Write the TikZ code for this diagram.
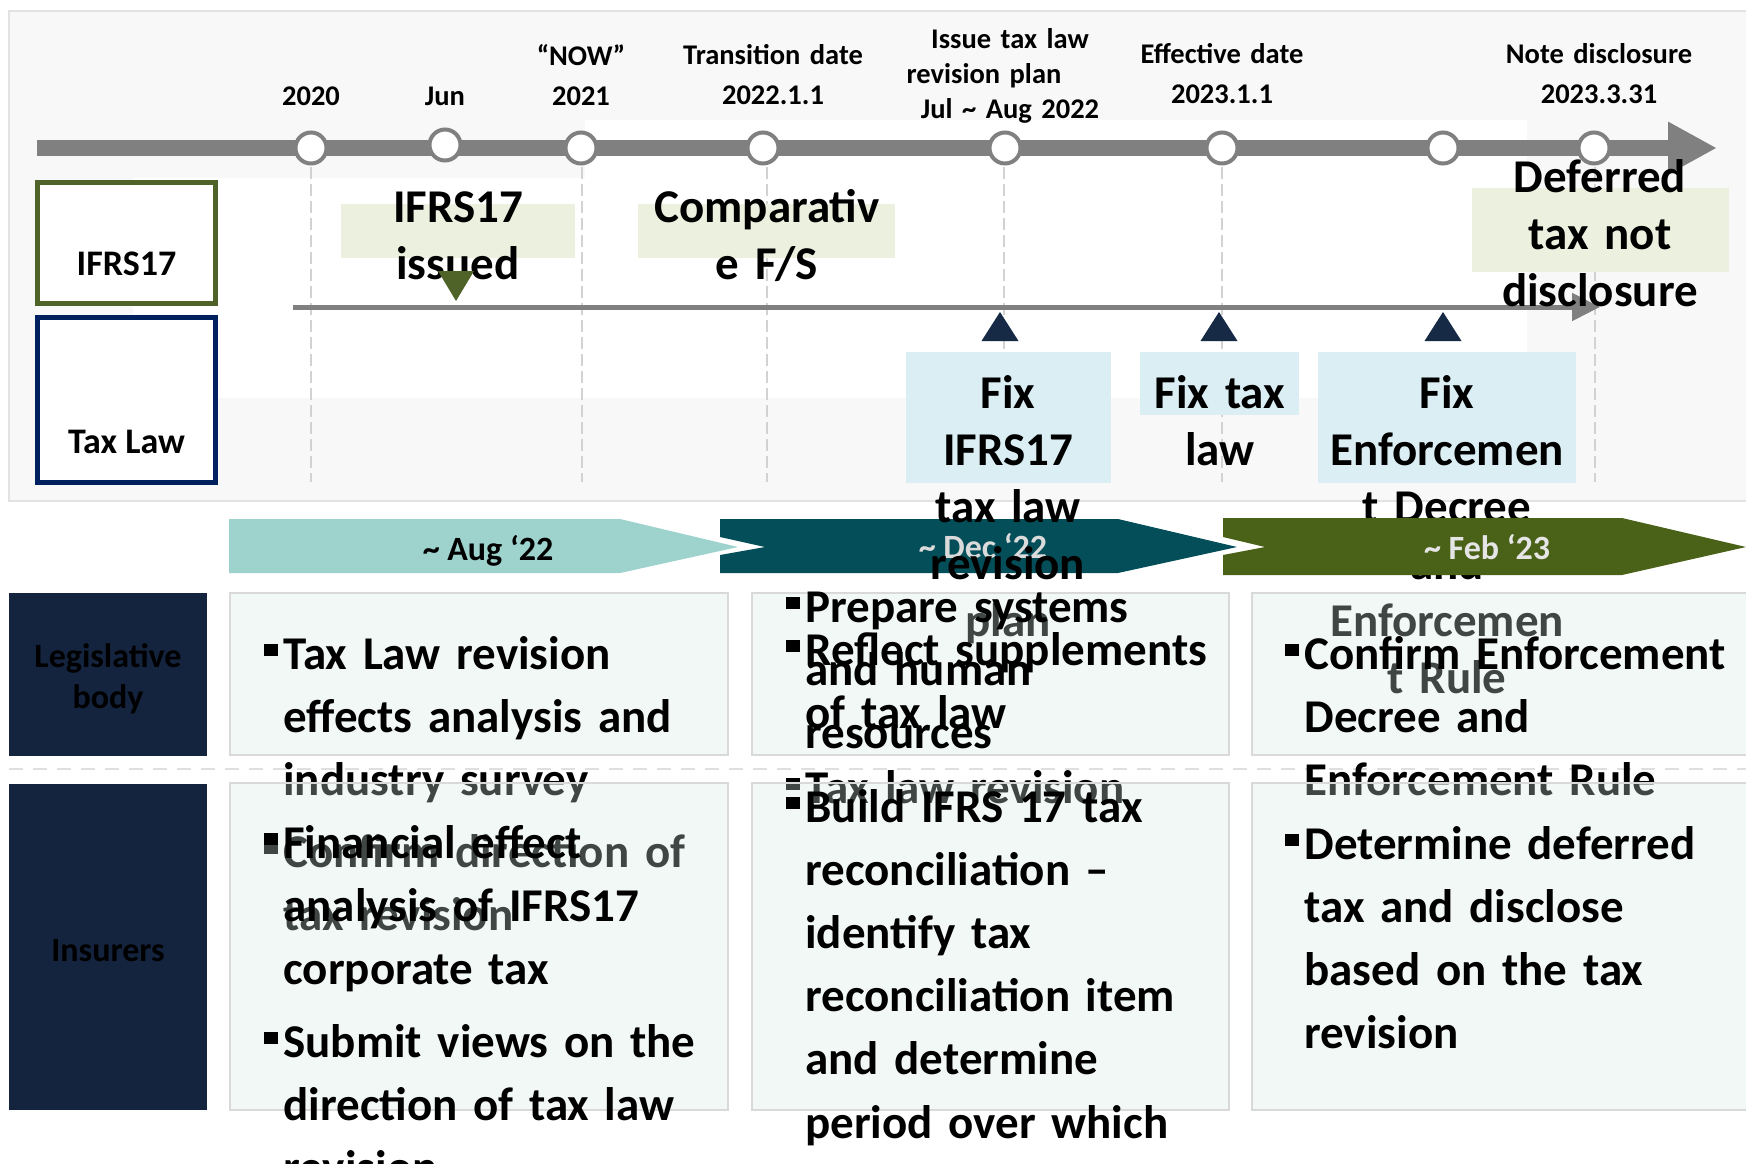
\documentclass[tikz,border=0pt]{standalone}
\usepackage{fontspec}
\setmainfont{Carlito}
\usetikzlibrary{arrows.meta,positioning,shapes.geometric}
\definecolor{panelgray}{HTML}{F8F8F8}
\definecolor{panelline}{HTML}{E2E2E2}
\definecolor{barGray}{HTML}{808080}
\definecolor{oliveDk}{HTML}{4F6228}
\definecolor{navyBorder}{HTML}{002060}
\definecolor{navyFill}{HTML}{14233E}
\definecolor{greenLt}{HTML}{EBF1DE}
\definecolor{blueLt}{HTML}{DAEEF3}
\definecolor{mintBox}{RGB}{212,232,225}
\definecolor{boxLine}{HTML}{D9D9D9}
\definecolor{tealLt}{HTML}{9DD3CC}
\definecolor{tealDk}{HTML}{034E58}
\definecolor{olivePh}{HTML}{4A6118}
\definecolor{triNavy}{HTML}{172A45}
\newcommand{\fsLbl}{\bfseries\fontsize{14.25}{20}\selectfont}
\newcommand{\fsCall}{\bfseries\fontsize{23.5}{28.5}\selectfont}
\newcommand{\fsBody}{\bfseries\fontsize{23.5}{31.6}\selectfont}
\newcommand{\fsCat}{\bfseries\fontsize{18}{21}\selectfont}
\newcommand{\fsRow}{\bfseries\fontsize{17}{20.5}\selectfont}
\newcommand{\bul}{\llap{\rule[6.5pt]{7pt}{6pt}\hspace{2.5pt}}}
\tikzset{
  tickdot/.style  = {circle, draw=barGray, line width=2pt, fill=white,
                     inner sep=0pt, minimum size=15.5pt},
  datelbl/.style  = {font=\fsLbl, anchor=base, align=center,
                     text width=120pt, inner sep=0pt},
  vguide/.style   = {draw=gray!35, line width=0.6pt, dash pattern=on 6pt off 2.5pt},
  mainbar/.style  = {draw=barGray, line width=8pt,
                     -{Triangle[length=24.5pt,width=24.5pt]}},
  thinbar/.style  = {draw=barGray, line width=2.5pt,
                     -{Triangle[length=14pt,width=13.5pt]}},
  catbox/.style   = {rectangle, fill=white, line width=2.5pt, inner sep=0pt,
                     minimum width=89pt, minimum height=60.5pt},
  cattxt/.style   = {font=\fsCat, anchor=base, inner sep=0pt},
  calltxt/.style  = {font=\fsCall, anchor=base, align=center,
                     text width=150pt, inner sep=0pt},
  phaselbl/.style = {font=\fsRow, anchor=base, inner sep=0pt},
  rowbox/.style   = {fill=mintBox, fill opacity=0.3, draw=boxLine, line width=0.75pt},
  bodytxt/.style  = {font=\fsBody, anchor=base west, align=left,
                     text width=260pt, inner sep=0pt},
  rowlbl/.style   = {rectangle, fill=navyFill, inner sep=0pt, minimum width=99pt},
  rowtxt/.style   = {font=\fsRow, align=center, inner sep=0pt}
}

\begin{document}
\begin{tikzpicture}[x=0.5pt, y=-0.5pt]
\useasboundingbox (0,0) rectangle (1746,1163);

% timeline panel
\filldraw[fill=panelgray, draw=panelline, line width=0.8pt] (9,11) rectangle (1760,501);
\fill[white] (133,178) -- (585,178) -- (585,120) -- (1527,120) -- (1527,398) -- (133,398) -- cycle;
\foreach \x in {311,582,767,1004,1222,1595}
  \draw[vguide] (\x,167) -- (\x,482);

\coordinate (barL) at (37,148);
\coordinate (barR) at (1717,148);
\draw[mainbar] (barL) -- (barR);
\foreach \n/\x/\y in {a/311/148, b/445/145, c/581/148, d/763/148,
                      e/1005/148, f/1222/148, g/1443/148, h/1594/148}
  \node[tickdot] (c\n) at (\x,\y) {};

\node[datelbl] (d2020)  at (311,105)  {2020};
\node[datelbl] (dJun)   at (445,105)  {Jun};
\node[datelbl] (dNow)   at (581,65)   {“NOW”\\2021};
\node[datelbl] (dTrans) at (773,64)   {Transition date\\2022.1.1};
\node[datelbl, font=\bfseries\fontsize{14.25}{17.5}\selectfont] (dIssue) at (1010,48)
     {Issue tax law\\revision plan\kern26pt\\Jul \textasciitilde{} Aug 2022};
\node[datelbl] (dEff)   at (1222,63)  {Effective date\\2023.1.1};
\node[datelbl] (dNote)  at (1599,63)  {Note disclosure\\2023.3.31};

\node[catbox, draw=oliveDk] (ifrsBox) at (126.5,243) {};
\node[cattxt] (ifrsTxt) at (126.5,275) {IFRS17};
\node[catbox, draw=navyBorder, minimum height=82.5pt] (taxBox) at (126.5,400) {};
\node[cattxt] (taxTxt) at (126.5,453) {Tax Law};

% event boxes
\fill[greenLt] (341,204) rectangle (575,258);
\fill[greenLt] (638,204) rectangle (895,258);
\fill[greenLt] (1472,188) rectangle (1729,272);
\fill[blueLt] (906,352) rectangle (1111,483);
\fill[blueLt] (1140,352) rectangle (1299,415);
\fill[blueLt] (1318,352) rectangle (1576,483);

\coordinate (lineL) at (293,307);
\coordinate (lineR) at (1600,307);
\draw[thinbar] (lineL) -- (lineR);

\node[calltxt] (issTxt)  at (458,222)  {IFRS17\\issued};
\node[calltxt] (compTxt) at (767,222)  {Comparativ\\e F/S};
\node[calltxt] (defTxt)  at (1600,192) {Deferred\\tax not\\disclosure};

\fill[oliveDk] (438,271) -- (474,271) -- (456,301) -- cycle;
\foreach \x in {1000,1219,1443}
  \fill[triNavy] (\x-18.5,341) -- (\x+18.5,341) -- (\x,312) -- cycle;

% phases
\fill[tealLt] (229,519) -- (620,519) -- (738,547) -- (620,573) -- (229,573) -- cycle;
\node[phaselbl] (ph1) at (488,560) {\textasciitilde{} Aug ‘22};
\fill[tealDk] (720,519) -- (1118,519) -- (1237,547) -- (1118,573) -- (720,573)
   -- (720,555) -- (765,547) -- (720,537) -- cycle;
\node[phaselbl, text=white!86!black] (ph2) at (983,558) {\textasciitilde{} Dec ‘22};

\node[calltxt] (fixIfrs) at (1008,408) {Fix\\IFRS17\\tax law\\revision\\plan};
\node[calltxt] (fixTax)  at (1220,408) {Fix tax\\law};
\node[calltxt] (fixEnf)  at (1447,408) {Fix\\Enforcemen\\t Decree\\and\\Enforcemen\\t Rule};

\fill[olivePh] (1223,518) -- (1622,518) -- (1746,547) -- (1622,575) -- (1223,575)
   -- (1223,555) -- (1265,547) -- (1223,537) -- cycle;
\node[phaselbl, text=white!90!black] (ph3) at (1487,559) {\textasciitilde{} Feb ‘23};

% legislative body row
\draw[rowbox] (230,593) rectangle (728,755);
\draw[rowbox] (752,593) rectangle (1229,755);
\draw[rowbox] (1252,593) rectangle (1760,755);
\draw[draw=gray!25, line width=0.8pt, dash pattern=on 7pt off 5pt] (9,769) -- (1746,769);

\node[bodytxt] (r1c1a) at (283,669) {\bul Tax Law revision\\effects analysis and\\industry survey};
\node[bodytxt] (r1c1b) at (283,867) {\bul Confirm direction of\\tax revision};
\node[bodytxt] (r1c2a) at (805,622) {\bul Prepare systems\\and human\\resources};
\node[bodytxt] (r1c2b) at (805,665) {\bul Reflect supplements\\of tax law};
\node[bodytxt] (r1c2c) at (805,803) {\bul Tax law revision};
\node[bodytxt] (r1c3)  at (1304,669) {\bul Confirm Enforcement\\Decree and\\Enforcement Rule};

% insurers row
\draw[rowbox] (230,783) rectangle (728,1110);
\draw[rowbox] (752,783) rectangle (1229,1110);
\draw[rowbox] (1252,783) rectangle (1760,1110);

\node[bodytxt] (r2c1a) at (283,858) {\bul Financial effect\\analysis of IFRS17\\corporate tax};
\node[bodytxt] (r2c1b) at (283,1057) {\bul Submit views on the\\direction of tax law\\revision};
\node[bodytxt] (r2c2)  at (805,822) {\bul Build IFRS 17 tax\\reconciliation –\\identify tax\\reconciliation item\\and determine\\period over which};
\node[bodytxt] (r2c3)  at (1304,859) {\bul Determine deferred\\tax and disclose\\based on the tax\\revision};

\node[rowlbl, minimum height=81.5pt] (legis) at (108,674.5) {};
\node[rowtxt] (legisTxt) at (108,679) {Legislative\\body};
\node[rowlbl, minimum height=163pt] (insur) at (108,947) {};
\node[rowtxt] (insurTxt) at (108,951) {Insurers};
\end{tikzpicture}
\end{document}
